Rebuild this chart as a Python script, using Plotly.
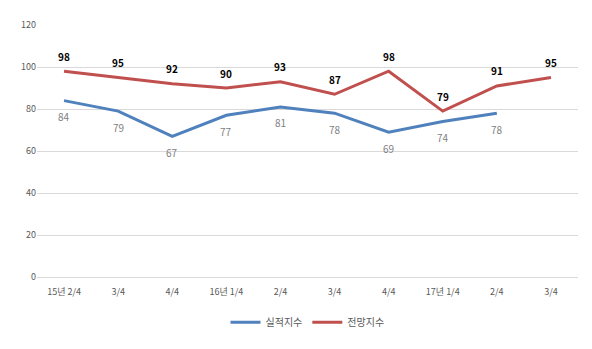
import plotly.graph_objects as go

categories = ["15년 2/4", "3/4", "4/4", "16년 1/4", "2/4", "3/4", "4/4", "17년 1/4", "2/4", "3/4"]
actual = [84, 79, 67, 77, 81, 78, 69, 74, 78, None]
outlook = [98, 95, 92, 90, 93, 87, 98, 79, 91, 95]

x = list(range(len(categories)))
font = "Noto Sans CJK KR, Malgun Gothic, sans-serif"

fig = go.Figure()
fig.add_trace(go.Scatter(x=x, y=actual, mode="lines", name="실적지수",
                         line=dict(color="#4F81BD", width=3)))
fig.add_trace(go.Scatter(x=x, y=outlook, mode="lines", name="전망지수",
                         line=dict(color="#C0504D", width=3)))

annotations = []
for xi, v in zip(x, actual):
    if v is not None:
        annotations.append(dict(x=xi, y=v, text=str(v), showarrow=False, yshift=-16,
                                font=dict(family=font, size=10, color="#7f7f7f")))
for xi, v in zip(x, outlook):
    annotations.append(dict(x=xi, y=v, text="<b>%d</b>" % v, showarrow=False, yshift=15,
                            font=dict(family=font, size=10, color="#000000")))

fig.update_layout(
    width=592, height=349,
    margin=dict(l=37, r=14, t=25, b=72),
    plot_bgcolor="white", paper_bgcolor="white",
    font=dict(family=font, size=9, color="#595959"),
    showlegend=True,
    legend=dict(orientation="h", x=0.5, xanchor="center", y=-0.18, yanchor="middle",
                font=dict(family=font, size=10, color="#595959"), itemwidth=30),
    annotations=annotations,
    xaxis=dict(tickmode="array", tickvals=x, ticktext=categories, range=[-0.5, 9.5],
               showgrid=False, zeroline=False, showline=False, ticks="",
               ticklabelstandoff=8,
               tickfont=dict(family=font, size=9, color="#595959")),
    yaxis=dict(range=[0, 120], dtick=20, showgrid=True, gridcolor="#d9d9d9", gridwidth=1,
               zeroline=True, zerolinecolor="#d9d9d9", zerolinewidth=1,
               showline=False, ticks="",
               tickfont=dict(family=font, size=9, color="#595959")),
)

fig.write_html("out.html")
